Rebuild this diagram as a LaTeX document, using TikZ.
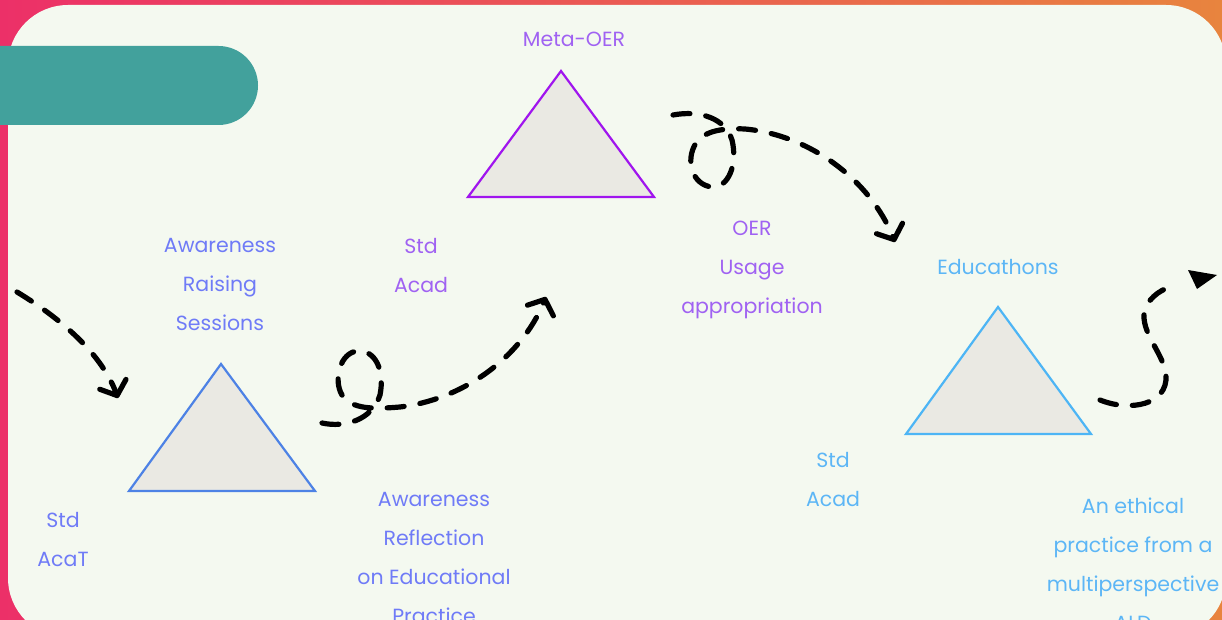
\documentclass[tikz,border=0pt]{standalone}
\usepackage{fontspec}
\setmainfont{Poppins}
\usetikzlibrary{arrows.meta}
\definecolor{panelbg}{HTML}{F4F9F0}
\definecolor{barteal}{HTML}{42A19C}
\definecolor{bgpink}{HTML}{EC3068}
\definecolor{bgorange}{HTML}{E8843E}
\definecolor{trifill}{HTML}{EAE9E3}
\definecolor{blueline}{HTML}{4D82E5}
\definecolor{bluetxt}{HTML}{6F7BF7}
\definecolor{purpleline}{HTML}{A015EE}
\definecolor{purpletxt}{HTML}{A062F2}
\definecolor{skyline}{HTML}{4DB5F5}
\definecolor{skytxt}{HTML}{5CB6F6}

\begin{document}
\begin{tikzpicture}[x=1pt,y=-1pt]

\tikzset{
	lbl/.style={text=#1, align=center, inner sep=0pt,
		font=\fontsize{20.5}{39}\selectfont},
	tri/.style={draw=#1, fill=trifill, line width=2.2pt, line join=miter},
	flow/.style={line width=5.2pt, dash pattern=on 17pt off 16pt, line cap=round},
	barb/.style={flow, -{Straight Barb[length=12pt,width=28pt,round]}}
}

\useasboundingbox (0,0) rectangle (1222,620);

% background and panel
\shade[left color=bgpink, right color=bgorange] (0,0) rectangle (1222,620);
\fill[panelbg, rounded corners=60pt] (8,5) rectangle (1226,638);
\fill[barteal, rounded corners=39.5pt] (-60,46) rectangle (258,125);

% triangles
\draw[tri=blueline] (129,491) coordinate (tA) -- (221,364) -- (315,491) -- cycle;
\draw[tri=purpleline] (468,197) coordinate (tB) -- (561,71) -- (654,197) -- cycle;
\draw[tri=skyline] (906,434) coordinate (tC) -- (998,307) -- (1091,434) -- cycle;

% labels
\node[lbl=bluetxt] (sessions) at (220,284) {Awareness\\Raising\\Sessions};
\node[lbl=bluetxt] (stdA) at (63,539.5) {Std\\AcaT};
\node[lbl=bluetxt] (reflect) at (434,557.5) {Awareness\\Reflection\\on Educational\\Practice};
\node[lbl=purpletxt] (meta) at (574,39) {Meta-OER};
\node[lbl=purpletxt] (stdB) at (421,266) {Std\\Acad};
\node[lbl=purpletxt] (usage) at (752,270) {OER\\Usage\\appropriation};
\node[lbl=skytxt] (educ) at (998,267) {Educathons};
\node[lbl=skytxt] (stdC) at (833,479.5) {Std\\Acad};
\node[lbl=skytxt] (ethic) at (1133,564) {An ethical\\practice from a\\multiperspective\\ALD};

% arrows
\coordinate (in1) at (17,292);
\coordinate (out1) at (118,398);
\coordinate (in2) at (322,423);
\coordinate (out2) at (546,297);
\coordinate (in3) at (673,115);
\coordinate (out3) at (895,242);
\coordinate (in4) at (1100,400);
\coordinate (out4) at (1170,287);

\draw[barb] (in1) .. controls (55,315) and (100,350) .. (out1);
\draw[barb] (in2) .. controls (345,428) and (372,420) .. (380,395)
	.. controls (385,370) and (375,350) .. (358,351)
	.. controls (340,352) and (333,380) .. (342,395)
	.. controls (352,410) and (375,409) .. (400,407)
	.. controls (460,400) and (520,360) .. (out2);
\draw[barb] (in3) .. controls (700,110) and (725,118) .. (732,140)
	.. controls (738,165) and (728,188) .. (712,187)
	.. controls (692,185) and (685,160) .. (696,143)
	.. controls (705,130) and (725,128) .. (745,129)
	.. controls (810,135) and (870,180) .. (out3);
\draw[flow] (in4) .. controls (1130,412) and (1168,405) .. (1166,375)
	.. controls (1164,355) and (1143,335) .. (1144,315)
	.. controls (1145,300) and (1160,290) .. (out4);
\fill[black] (1188,270) -- (1217,275) -- (1197,289) -- cycle;

\end{tikzpicture}
\end{document}
